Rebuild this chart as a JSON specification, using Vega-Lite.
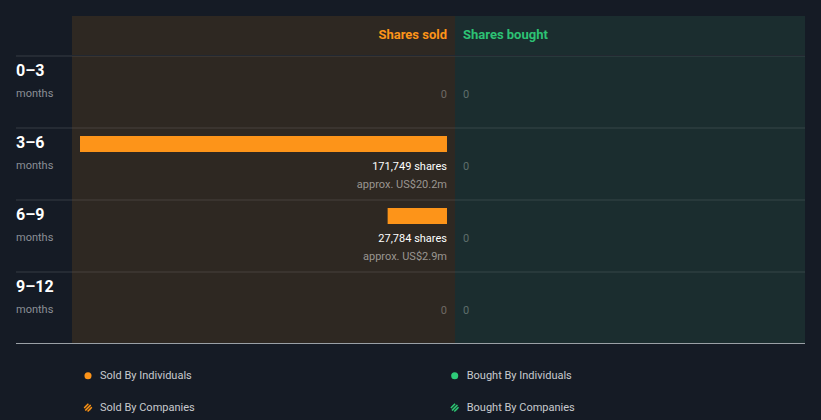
{
  "$schema": "https://vega.github.io/schema/vega-lite/v6.json",
  "background": "#151b25",
  "padding": {"left": 15, "top": 16, "right": 16, "bottom": 0},
  "config": {"font": "Roboto", "view": {"stroke": null}, "concat": {"spacing": 0}},
  "datasets": {
    "rows": [
      {"period": "0–3", "sold": 0, "sold_label": "0", "sold_value": "", "bought": 0, "bought_label": "0"},
      {"period": "3–6", "sold": 171749, "sold_label": "171,749 shares", "sold_value": "approx. US$20.2m", "bought": 0, "bought_label": "0"},
      {"period": "6–9", "sold": 27784, "sold_label": "27,784 shares", "sold_value": "approx. US$2.9m", "bought": 0, "bought_label": "0"},
      {"period": "9–12", "sold": 0, "sold_label": "0", "sold_value": "", "bought": 0, "bought_label": "0"}
    ],
    "legend": [
      {"side": "Sold", "kind": "Individuals", "label": "Sold By Individuals"},
      {"side": "Bought", "kind": "Individuals", "label": "Bought By Individuals"},
      {"side": "Sold", "kind": "Companies", "label": "Sold By Companies"},
      {"side": "Bought", "kind": "Companies", "label": "Bought By Companies"}
    ]
  },
  "spacing": 0,
  "vconcat": [
    {
      "spacing": 0,
      "bounds": "flush",
      "hconcat": [
        {
          "width": 56, "height": 39,
          "data": {"values": [{"h": ""}]},
          "mark": {"type": "text"},
          "encoding": {"text": {"field": "h"}}
        },
        {
          "width": 383, "height": 39,
          "view": {"fill": "#2e2822", "stroke": null},
          "data": {"values": [{"h": "Shares sold"}]},
          "mark": {"type": "text", "align": "right", "baseline": "alphabetic", "dy": 3.5, "fontSize": 13, "fontWeight": "bold", "color": "#fd9419"},
          "encoding": {
            "x": {"datum": 0, "type": "quantitative", "scale": {"domain": [-3744, 175493], "reverse": true, "nice": false, "zero": false}, "axis": null},
            "text": {"field": "h"}
          }
        },
        {
          "width": 350, "height": 39,
          "view": {"fill": "#1b2d2f", "stroke": null},
          "data": {"values": [{"h": "Shares bought"}]},
          "mark": {"type": "text", "align": "left", "baseline": "alphabetic", "dy": 3.5, "fontSize": 13, "fontWeight": "bold", "color": "#2dc275"},
          "encoding": {
            "x": {"datum": 0, "type": "quantitative", "scale": {"domain": [-3744, 160049], "nice": false, "zero": false}, "axis": null},
            "text": {"field": "h"}
          }
        }
      ]
    },
    {
      "spacing": 0,
      "bounds": "flush",
      "hconcat": [
        {
          "width": 56, "height": 288,
          "data": {"name": "rows"},
          "layer": [
            {
              "mark": {"type": "rule", "color": "#ffffff", "opacity": 0.14},
              "encoding": {"y": {"field": "period", "type": "ordinal", "sort": ["0–3", "3–6", "6–9", "9–12"], "scale": {"type": "band", "paddingInner": 0, "paddingOuter": 0}, "axis": null, "bandPosition": 0}}
            },
            {
              "transform": [{"filter": "datum.period === '9–12'"}],
              "mark": {"type": "rule", "color": "#9aa0a6", "yOffset": -0.5},
              "encoding": {"y": {"field": "period", "type": "ordinal", "sort": ["0–3", "3–6", "6–9", "9–12"], "scale": {"type": "band", "paddingInner": 0, "paddingOuter": 0}, "axis": null, "bandPosition": 1}}
            },
            {
              "mark": {"type": "text", "align": "left", "baseline": "alphabetic", "dy": -16, "fontSize": 16, "fontWeight": "bold", "color": "#ffffff"},
              "encoding": {
                "x": {"value": 0},
                "y": {"field": "period", "type": "ordinal", "sort": ["0–3", "3–6", "6–9", "9–12"], "scale": {"type": "band", "paddingInner": 0, "paddingOuter": 0}, "axis": null},
                "text": {"field": "period"}
              }
            },
            {
              "mark": {"type": "text", "align": "left", "baseline": "alphabetic", "dy": 4.5, "fontSize": 11, "color": "#8b8f96", "text": "months"},
              "encoding": {
                "x": {"value": 0},
                "y": {"field": "period", "type": "ordinal", "sort": ["0–3", "3–6", "6–9", "9–12"], "scale": {"type": "band", "paddingInner": 0, "paddingOuter": 0}, "axis": null}
              }
            }
          ]
        },
        {
          "width": 383, "height": 288,
          "view": {"fill": "#2e2822", "stroke": null},
          "data": {"name": "rows"},
          "layer": [
            {
              "mark": {"type": "rule", "color": "#ffffff", "opacity": 0.12},
              "encoding": {"y": {"field": "period", "type": "ordinal", "sort": ["0–3", "3–6", "6–9", "9–12"], "scale": {"type": "band", "paddingInner": 0, "paddingOuter": 0}, "axis": null, "bandPosition": 0}}
            },
            {
              "transform": [{"filter": "datum.period === '9–12'"}],
              "mark": {"type": "rule", "color": "#9aa0a6", "yOffset": -0.5},
              "encoding": {"y": {"field": "period", "type": "ordinal", "sort": ["0–3", "3–6", "6–9", "9–12"], "scale": {"type": "band", "paddingInner": 0, "paddingOuter": 0}, "axis": null, "bandPosition": 1}}
            },
            {
              "transform": [{"filter": "datum.sold > 0"}],
              "mark": {"type": "bar", "height": 16, "yOffset": -20, "color": "#fd9419"},
              "encoding": {
                "x": {"field": "sold", "type": "quantitative", "scale": {"domain": [-3744, 175493], "reverse": true, "nice": false, "zero": false}, "axis": null},
                "x2": {"datum": 0},
                "y": {"field": "period", "type": "ordinal", "sort": ["0–3", "3–6", "6–9", "9–12"], "scale": {"type": "band", "paddingInner": 0, "paddingOuter": 0}, "axis": null}
              }
            },
            {
              "mark": {"type": "text", "align": "right", "baseline": "alphabetic", "dy": 6, "fontSize": 11},
              "encoding": {
                "x": {"datum": 0, "type": "quantitative", "scale": {"domain": [-3744, 175493], "reverse": true, "nice": false, "zero": false}, "axis": null},
                "y": {"field": "period", "type": "ordinal", "sort": ["0–3", "3–6", "6–9", "9–12"], "scale": {"type": "band", "paddingInner": 0, "paddingOuter": 0}, "axis": null},
                "text": {"field": "sold_label"},
                "color": {"condition": {"test": "datum.sold > 0", "value": "#ffffff"}, "value": "#6e6a65"}
              }
            },
            {
              "mark": {"type": "text", "align": "right", "baseline": "alphabetic", "dy": 23.5, "fontSize": 11, "color": "#9a9691"},
              "encoding": {
                "x": {"datum": 0, "type": "quantitative", "scale": {"domain": [-3744, 175493], "reverse": true, "nice": false, "zero": false}, "axis": null},
                "y": {"field": "period", "type": "ordinal", "sort": ["0–3", "3–6", "6–9", "9–12"], "scale": {"type": "band", "paddingInner": 0, "paddingOuter": 0}, "axis": null},
                "text": {"field": "sold_value"}
              }
            }
          ]
        },
        {
          "width": 350, "height": 288,
          "view": {"fill": "#1b2d2f", "stroke": null},
          "data": {"name": "rows"},
          "layer": [
            {
              "mark": {"type": "rule", "color": "#ffffff", "opacity": 0.12},
              "encoding": {"y": {"field": "period", "type": "ordinal", "sort": ["0–3", "3–6", "6–9", "9–12"], "scale": {"type": "band", "paddingInner": 0, "paddingOuter": 0}, "axis": null, "bandPosition": 0}}
            },
            {
              "transform": [{"filter": "datum.period === '9–12'"}],
              "mark": {"type": "rule", "color": "#9aa0a6", "yOffset": -0.5},
              "encoding": {"y": {"field": "period", "type": "ordinal", "sort": ["0–3", "3–6", "6–9", "9–12"], "scale": {"type": "band", "paddingInner": 0, "paddingOuter": 0}, "axis": null, "bandPosition": 1}}
            },
            {
              "mark": {"type": "text", "align": "left", "baseline": "alphabetic", "dy": 6, "fontSize": 11, "color": "#5f6d6c"},
              "encoding": {
                "x": {"datum": 0, "type": "quantitative", "scale": {"domain": [-3744, 160049], "nice": false, "zero": false}, "axis": null},
                "y": {"field": "period", "type": "ordinal", "sort": ["0–3", "3–6", "6–9", "9–12"], "scale": {"type": "band", "paddingInner": 0, "paddingOuter": 0}, "axis": null},
                "text": {"field": "bought_label"}
              }
            }
          ]
        }
      ]
    },
    {
      "width": 789, "height": 76,
      "data": {"name": "legend"},
      "encoding": {
        "x": {"field": "side", "type": "nominal", "scale": {"type": "point", "domain": ["Sold", "Bought"], "padding": 0.5758, "align": 0.1705}, "axis": null},
        "y": {"field": "kind", "type": "nominal", "scale": {"type": "point", "domain": ["Individuals", "Companies"], "padding": 0.6875, "align": 0.72}, "axis": null}
      },
      "layer": [
        {
          "transform": [{"filter": "datum.kind === 'Individuals'"}],
          "mark": {"type": "point", "shape": "circle", "filled": true, "size": 50, "opacity": 1},
          "encoding": {"color": {"field": "side", "type": "nominal", "scale": {"domain": ["Sold", "Bought"], "range": ["#fd9419", "#2ecb79"]}, "legend": null}}
        },
        {
          "transform": [{"filter": "datum.kind === 'Companies'"}],
          "mark": {"type": "point", "shape": "circle", "filled": true, "size": 50, "opacity": 1},
          "encoding": {"fill": {"field": "side", "type": "nominal", "scale": {"domain": ["Sold", "Bought"], "range": ["#4d3414", "#173d2c"]}, "legend": null}}
        },
        {
          "transform": [{"filter": "datum.kind === 'Companies'"}],
          "mark": {"type": "point", "shape": "M-0.707,0.707L0.707,-0.707M-0.0955,0.9955L0.9955,-0.0955M-0.9955,0.0955L0.0955,-0.9955", "filled": false, "size": 60, "strokeWidth": 1.3, "opacity": 1},
          "encoding": {"stroke": {"field": "side", "type": "nominal", "scale": {"domain": ["Sold", "Bought"], "range": ["#fd9419", "#2ecb79"]}, "legend": null}}
        },
        {
          "mark": {"type": "text", "align": "left", "baseline": "middle", "dx": 12, "fontSize": 11, "color": "#c8cace"},
          "encoding": {"text": {"field": "label"}}
        }
      ]
    }
  ]
}
